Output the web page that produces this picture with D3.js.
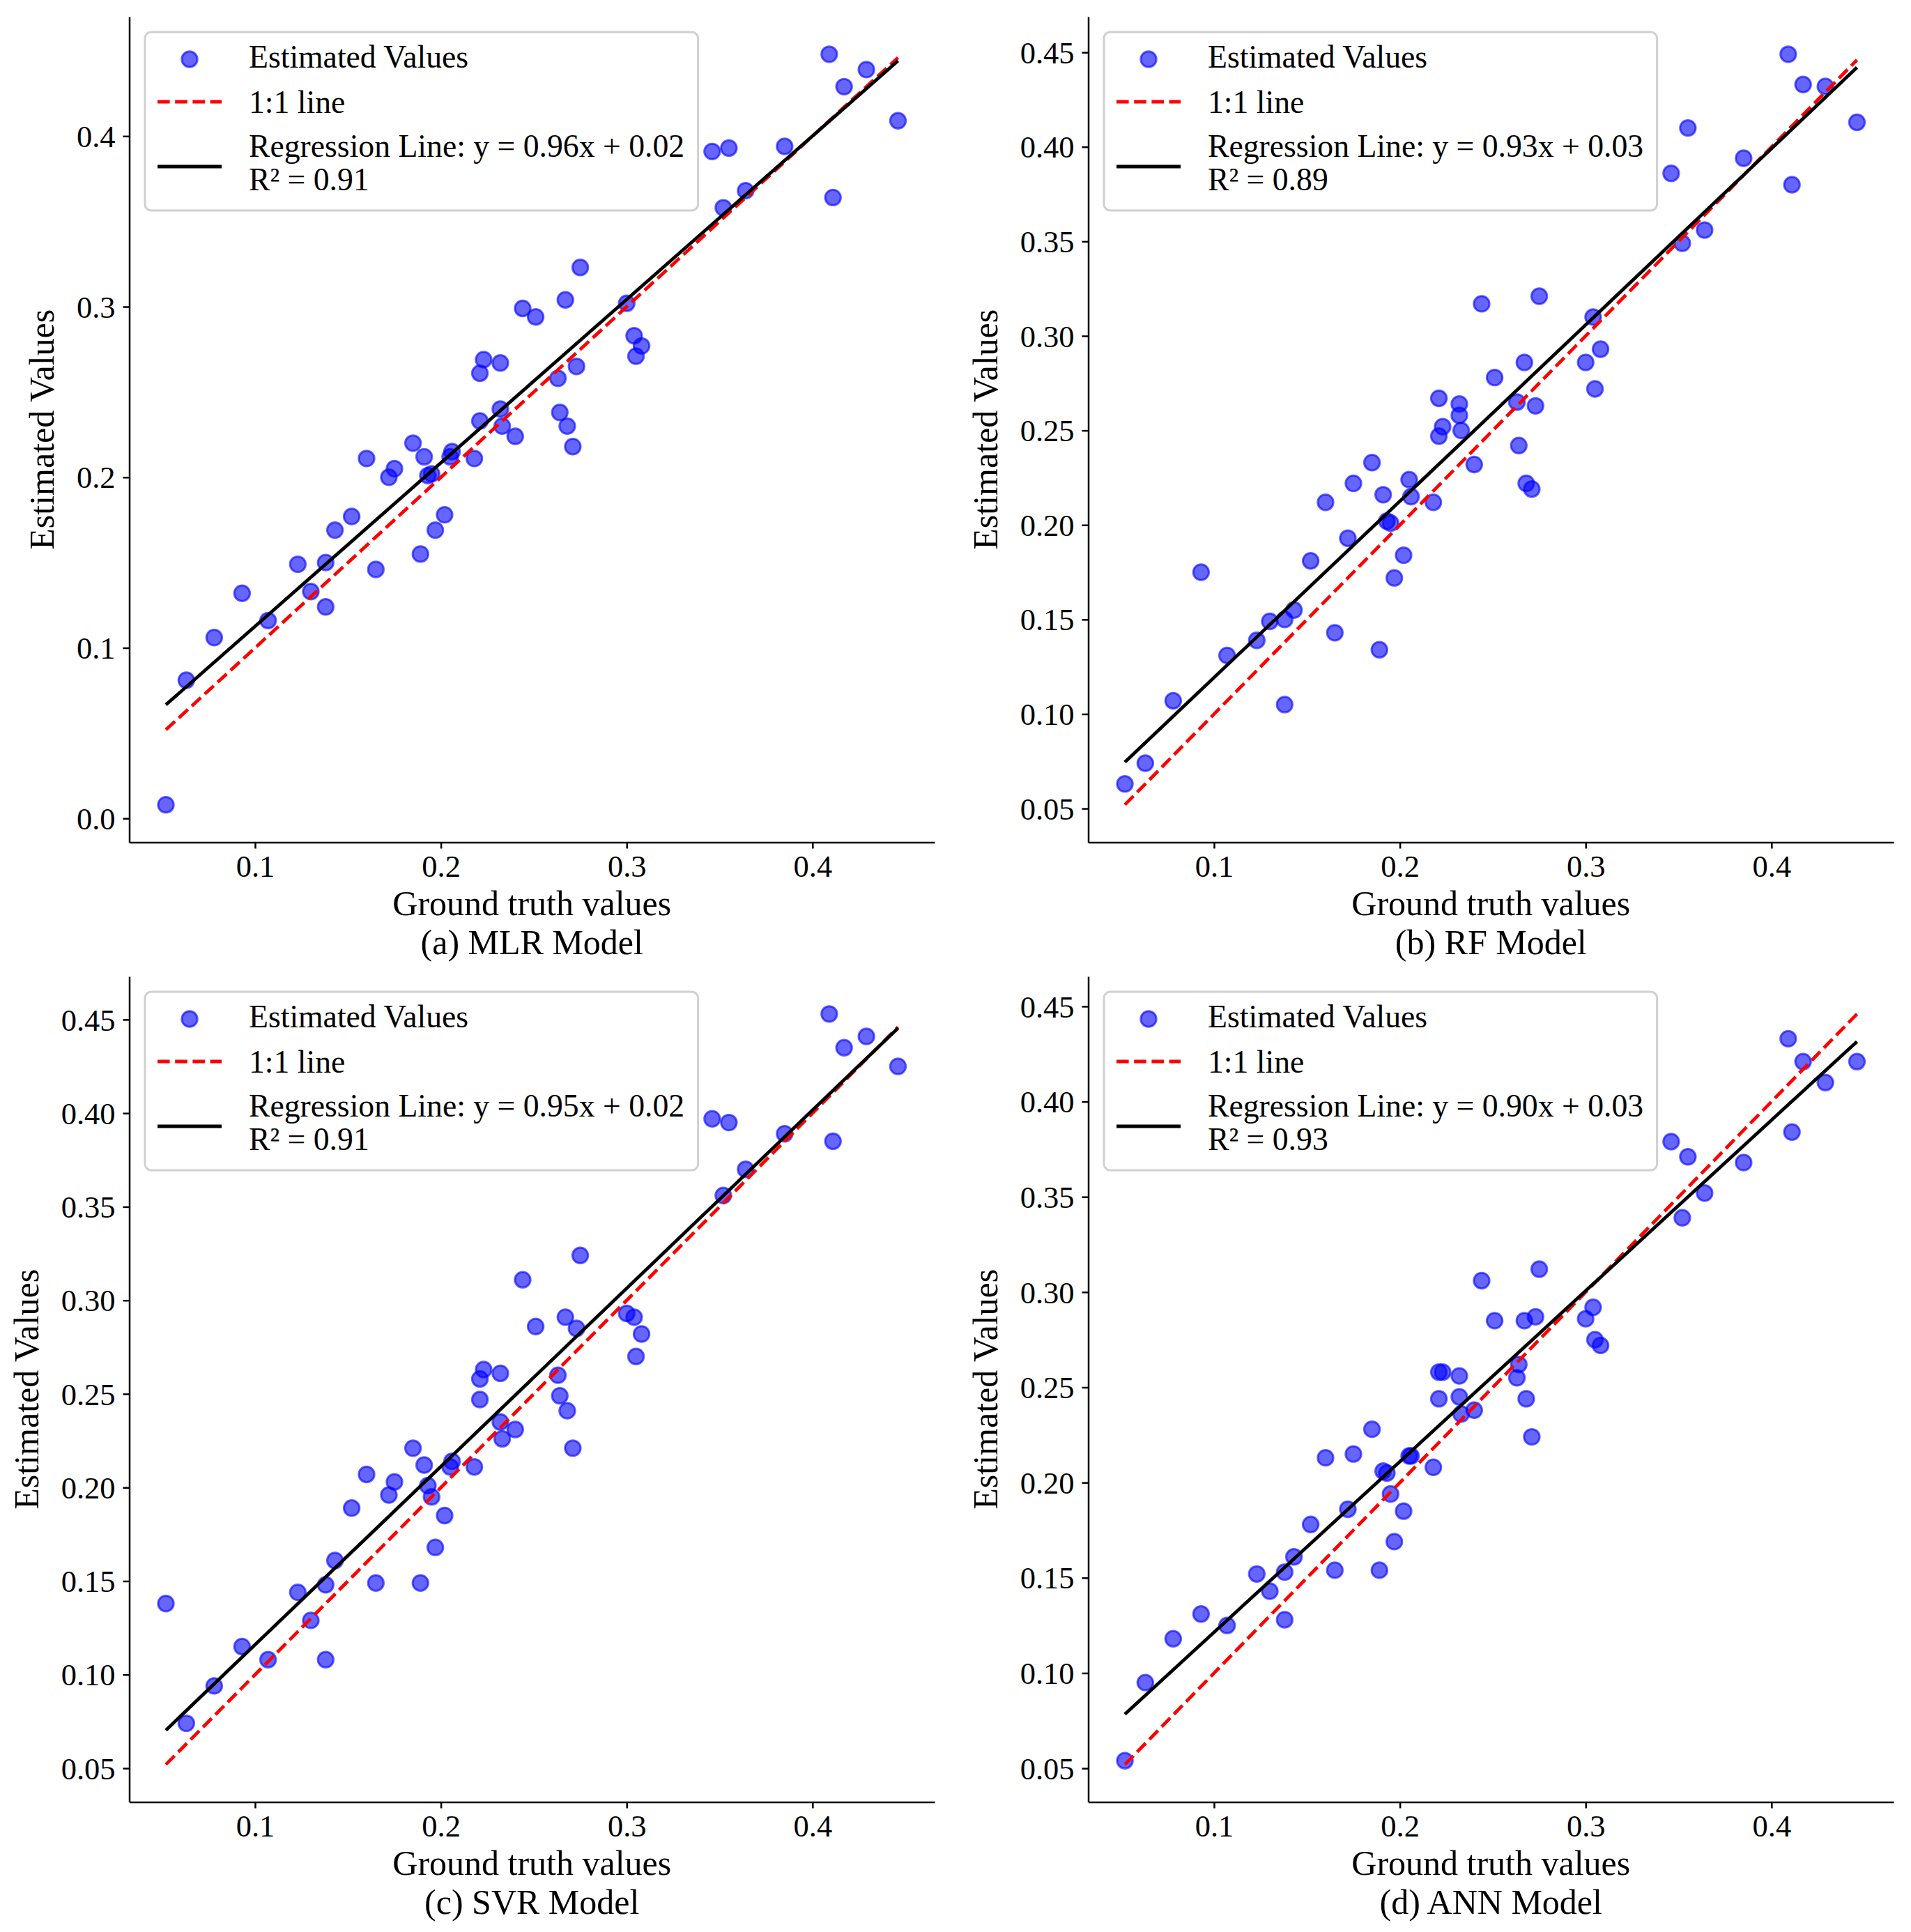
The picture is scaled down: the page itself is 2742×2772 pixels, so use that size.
<!DOCTYPE html>
<html>
<head>
<meta charset="utf-8">
<script src="https://cdn.jsdelivr.net/npm/d3@7/dist/d3.min.js"></script>
<style>
    body { margin: 0; background: #ffffff; }
    text { font-family: "Liberation Serif", "Times New Roman", serif; }
</style>
</head>
<body>
<div id="wrapper"></div>
<script>
// ground truth (shared x values of all four panels)
const groundTruth = [0.052, 0.063, 0.078, 0.093, 0.107, 0.123, 0.130, 0.138, 0.138, 0.143,
    0.152, 0.160, 0.165, 0.172, 0.175, 0.185, 0.189, 0.191, 0.193, 0.195,
    0.197, 0.202, 0.205, 0.206, 0.218, 0.221, 0.221, 0.223, 0.232, 0.232,
    0.233, 0.240, 0.244, 0.251, 0.263, 0.264, 0.267, 0.268, 0.271, 0.273,
    0.275, 0.300, 0.304, 0.305, 0.308, 0.346, 0.355, 0.352, 0.364, 0.385,
    0.409, 0.411, 0.417, 0.429, 0.446];

// estimated values per model
const mlrValues = [0.008, 0.081, 0.106, 0.132, 0.116, 0.149, 0.133, 0.150, 0.124, 0.169,
    0.177, 0.211, 0.146, 0.200, 0.205, 0.220, 0.155, 0.212, 0.201, 0.202,
    0.169, 0.178, 0.212, 0.215, 0.211, 0.233, 0.261, 0.269, 0.267, 0.240,
    0.230, 0.224, 0.299, 0.294, 0.258, 0.238, 0.304, 0.230, 0.218, 0.265,
    0.323, 0.302, 0.283, 0.271, 0.277, 0.391, 0.393, 0.358, 0.368, 0.394,
    0.448, 0.364, 0.429, 0.439, 0.409];

const rfValues = [0.063, 0.074, 0.107, 0.175, 0.131, 0.139, 0.149, 0.150, 0.105, 0.155,
    0.181, 0.212, 0.143, 0.193, 0.222, 0.233, 0.134, 0.216, 0.202, 0.201,
    0.172, 0.184, 0.224, 0.215, 0.212, 0.247, 0.267, 0.252, 0.264, 0.258,
    0.250, 0.232, 0.317, 0.278, 0.265, 0.242, 0.286, 0.222, 0.219, 0.263,
    0.321, 0.286, 0.310, 0.272, 0.293, 0.386, 0.410, 0.349, 0.356, 0.394,
    0.449, 0.380, 0.433, 0.432, 0.413];

const svrValues = [0.138, 0.074, 0.094, 0.115, 0.108, 0.144, 0.129, 0.148, 0.108, 0.161,
    0.189, 0.207, 0.149, 0.196, 0.203, 0.221, 0.149, 0.212, 0.201, 0.195,
    0.168, 0.185, 0.211, 0.214, 0.211, 0.247, 0.258, 0.263, 0.261, 0.235,
    0.226, 0.231, 0.311, 0.286, 0.260, 0.249, 0.291, 0.241, 0.221, 0.285,
    0.324, 0.293, 0.291, 0.270, 0.282, 0.397, 0.395, 0.356, 0.370, 0.389,
    0.453, 0.385, 0.435, 0.441, 0.425];

const annValues = [0.054, 0.095, 0.118, 0.131, 0.125, 0.152, 0.143, 0.153, 0.128, 0.161,
    0.178, 0.213, 0.154, 0.186, 0.215, 0.228, 0.154, 0.206, 0.205, 0.194,
    0.169, 0.185, 0.214, 0.214, 0.208, 0.244, 0.258, 0.258, 0.256, 0.245,
    0.236, 0.238, 0.306, 0.285, 0.255, 0.262, 0.285, 0.244, 0.224, 0.287,
    0.312, 0.286, 0.292, 0.275, 0.272, 0.379, 0.371, 0.339, 0.352, 0.368,
    0.433, 0.384, 0.421, 0.410, 0.421];

const xTicks = [0.1, 0.2, 0.3, 0.4];
const yTicksMLR = [0.0, 0.1, 0.2, 0.3, 0.4];
const yTicksOther = [0.05, 0.10, 0.15, 0.20, 0.25, 0.30, 0.35, 0.40, 0.45];

const captions = ["(a) MLR Model", "(b) RF Model", "(c) SVR Model", "(d) ANN Model"];
const regressionLabels = ["Regression Line: y = 0.96x + 0.02", "Regression Line: y = 0.93x + 0.03",
    "Regression Line: y = 0.95x + 0.02", "Regression Line: y = 0.90x + 0.03"];
const r2Labels = ["R\u00b2 = 0.91", "R\u00b2 = 0.89", "R\u00b2 = 0.91", "R\u00b2 = 0.93"];

const FONT = "'Liberation Serif', 'Times New Roman', serif";

var dimensions = {
    width: 2742,
    height: 2772,
    tickFont: 44.5,
    legendFont: 45.7,
    labelFont: 50,
}

// axes rectangles of the 2x2 grid
const panels = [
    { values: mlrValues, yTicks: yTicksMLR, yFormat: ".1f", left: 185.5, right: 1341, top: 24, bottom: 1208.5 },
    { values: rfValues, yTicks: yTicksOther, yFormat: ".2f", left: 1561.5, right: 2717, top: 24, bottom: 1208.5 },
    { values: svrValues, yTicks: yTicksOther, yFormat: ".2f", left: 185.5, right: 1341, top: 1401, bottom: 2585.5 },
    { values: annValues, yTicks: yTicksOther, yFormat: ".2f", left: 1561.5, right: 2717, top: 1401, bottom: 2585.5 },
];

const wrapper = d3.select("#wrapper")
    .append("svg")
    .attr("width", dimensions.width)
    .attr("height", dimensions.height);

function padExtent(ext) {
    const m = (ext[1] - ext[0]) * 0.05;
    return [ext[0] - m, ext[1] + m];
}

function drawPanel(p, i) {
    const xs = groundTruth;
    const ys = p.values;

    // least squares fit
    const mx = d3.mean(xs), my = d3.mean(ys);
    const slope = d3.sum(xs, (x, k) => (x - mx) * (ys[k] - my)) / d3.sum(xs, x => (x - mx) * (x - mx));
    const intercept = my - slope * mx;

    const xExt = d3.extent(xs);
    const regLine = xExt.map(x => [x, slope * x + intercept]);
    const oneLine = xExt.map(x => [x, x]);

    const yExt = d3.extent(ys.concat(xExt, regLine.map(d => d[1])));

    const xScaler = d3.scaleLinear()
        .domain(padExtent(xExt))
        .range([p.left, p.right]);
    const yScaler = d3.scaleLinear()
        .domain(padExtent(yExt))
        .range([p.bottom, p.top]);

    const bounds = wrapper.append("g");

    // scatter
    bounds.append("g").selectAll("circle")
        .data(xs)
        .enter()
        .append("circle")
        .attr("cx", d => xScaler(d))
        .attr("cy", (d, k) => yScaler(ys[k]))
        .attr("r", 11.2)
        .attr("fill", "#0000ff")
        .attr("fill-opacity", 0.6)
        .attr("stroke", "#0000ff")
        .attr("stroke-opacity", 0.6)
        .attr("stroke-width", 3);

    const lineGen = d3.line()
        .x(d => xScaler(d[0]))
        .y(d => yScaler(d[1]));

    bounds.append("path")
        .attr("d", lineGen(oneLine))
        .attr("fill", "none")
        .attr("stroke", "#ff0000")
        .attr("stroke-width", 4.8)
        .attr("stroke-dasharray", "17.6,7.6");

    bounds.append("path")
        .attr("d", lineGen(regLine))
        .attr("fill", "none")
        .attr("stroke", "#000000")
        .attr("stroke-width", 4.8);

    // axes
    const xAxisGen = d3.axisBottom()
        .scale(xScaler)
        .tickValues(xTicks)
        .tickFormat(d3.format(".1f"))
        .tickSize(9)
        .tickSizeOuter(0);
    const xAxis = bounds.append("g")
        .attr("transform", `translate(0,${p.bottom})`)
        .call(xAxisGen);
    xAxis.selectAll("text")
        .attr("y", 49.5)
        .attr("dy", null);

    const yAxisGen = d3.axisLeft()
        .scale(yScaler)
        .tickValues(p.yTicks)
        .tickFormat(d3.format(p.yFormat))
        .tickSize(9)
        .tickSizeOuter(0)
        .tickPadding(11);
    const yAxis = bounds.append("g")
        .attr("transform", `translate(${p.left},0)`)
        .call(yAxisGen);
    yAxis.selectAll("text")
        .attr("dy", "0.34em");

    [xAxis, yAxis].forEach(ax => {
        ax.attr("font-family", FONT)
            .attr("font-size", dimensions.tickFont);
        ax.selectAll("text").attr("fill", "#000");
        ax.selectAll("line").attr("stroke", "#000").attr("stroke-width", 2.5);
        ax.select(".domain").attr("stroke", "#000").attr("stroke-width", 2.5);
    });

    // x label with caption on a second line
    const cx = (p.left + p.right) / 2;
    const xLabel = bounds.append("text")
        .attr("text-anchor", "middle")
        .attr("font-size", dimensions.labelFont)
        .attr("fill", "black");
    xLabel.append("tspan")
        .attr("x", cx)
        .attr("y", p.bottom + 104)
        .text("Ground truth values");
    xLabel.append("tspan")
        .attr("x", cx)
        .attr("y", p.bottom + 160)
        .text(captions[i]);

    const tickBox = yAxis.node().getBBox();
    const yLabelX = p.left + tickBox.x - 33;
    bounds.append("text")
        .attr("transform", `translate(${yLabelX},${(p.top + p.bottom) / 2}) rotate(-90)`)
        .attr("text-anchor", "middle")
        .attr("font-size", dimensions.labelFont)
        .attr("fill", "black")
        .text("Estimated Values");

    // legend
    const lx = p.left + 22.5, ly = p.top + 22;
    const legend = bounds.append("g").attr("transform", `translate(${lx},${ly})`);
    const frame = legend.append("rect")
        .attr("x", 0).attr("y", 0)
        .attr("height", 256)
        .attr("rx", 9).attr("ry", 9)
        .attr("fill", "white")
        .attr("fill-opacity", 0.8)
        .attr("stroke", "#d0d0d0")
        .attr("stroke-width", 3);

    legend.append("circle")
        .attr("cx", 64).attr("cy", 39).attr("r", 11.2)
        .attr("fill", "#0000ff").attr("fill-opacity", 0.6)
        .attr("stroke", "#0000ff").attr("stroke-opacity", 0.6)
        .attr("stroke-width", 3);
    legend.append("line")
        .attr("x1", 18).attr("x2", 110).attr("y1", 100).attr("y2", 100)
        .attr("stroke", "#ff0000").attr("stroke-width", 4.8)
        .attr("stroke-dasharray", "17.6,7.6");
    legend.append("line")
        .attr("x1", 18).attr("x2", 110).attr("y1", 193).attr("y2", 193)
        .attr("stroke", "#000").attr("stroke-width", 4.8);

    const legendTexts = [
        [["Estimated Values"], 50.7],
        [["1:1 line"], 115.7],
        [[regressionLabels[i], r2Labels[i]], 179],
    ];
    let maxW = 0;
    legendTexts.forEach(t => {
        const node = legend.append("text")
            .attr("font-size", dimensions.legendFont)
            .attr("fill", "black");
        t[0].forEach((line, k) => {
            const span = node.append("tspan")
                .attr("x", 149)
                .attr("y", t[1] + k * 48.3)
                .text(line);
            maxW = Math.max(maxW, span.node().getComputedTextLength());
        });
    });
    frame.attr("width", 149 + maxW + 19.5);
}

panels.forEach(drawPanel);
</script>
</body>
</html>
